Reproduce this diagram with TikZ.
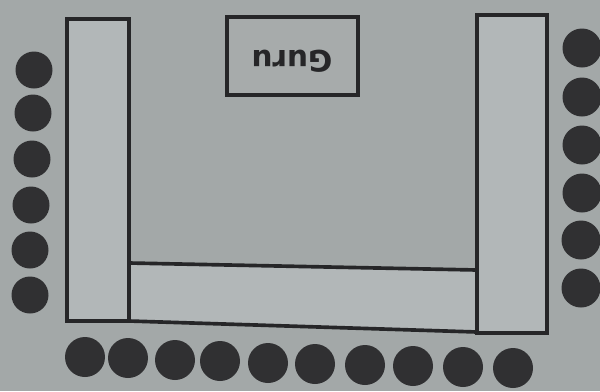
\documentclass[tikz,border=0pt]{standalone}
\usepackage{fontspec}
\setsansfont{DejaVu Sans}
\definecolor{paper}{RGB}{163,168,168}
\definecolor{tablefill}{RGB}{178,183,184}
\definecolor{inkdark}{RGB}{38,38,40}
\definecolor{seatdark}{RGB}{48,48,50}
\tikzset{
  tablebox/.style={draw=inkdark, fill=tablefill, line width=2.6pt, line join=miter},
  seat/.style={fill=seatdark},
  label/.style={font=\sffamily\bfseries\fontsize{21}{21}\selectfont, color=inkdark}
}
\begin{document}
\begin{tikzpicture}[x=0.025cm, y=-0.025cm]
  % Paper background
  \fill[paper] (0,0) rectangle (600,391);
  \useasboundingbox (0,0) rectangle (600,391);

  % Bottom table (between the two side tables)
  \draw[tablebox] (129,263) -- (477,270) -- (477,332) -- (129,321) -- cycle;

  % Left table
  \draw[tablebox] (67,19) rectangle (129,321);

  % Right table
  \draw[tablebox] (477,15) rectangle (547,333);

  % Guru table
  \draw[tablebox, fill=paper!96!white] (227,17) rectangle (358,95);
  \node[label, rotate=180] at (292,61) {Guru};

  % Seats on the left
  \foreach \x/\y in {34/70, 33/113, 32/159, 31/205, 30/250, 30/295}
    \fill[seat] (\x,\y) circle (18.5);

  % Seats on the right
  \foreach \x/\y in {582/48, 582/97, 582/145, 582/193, 581/240, 581/288}
    \fill[seat] (\x,\y) circle (19.5);

  % Seats along the bottom
  \foreach \x/\y in {85/357, 128/358, 175/360, 220/361, 268/363, 315/364, 365/365, 413/366, 463/367, 513/368}
    \fill[seat] (\x,\y) circle (20);
\end{tikzpicture}
\end{document}
